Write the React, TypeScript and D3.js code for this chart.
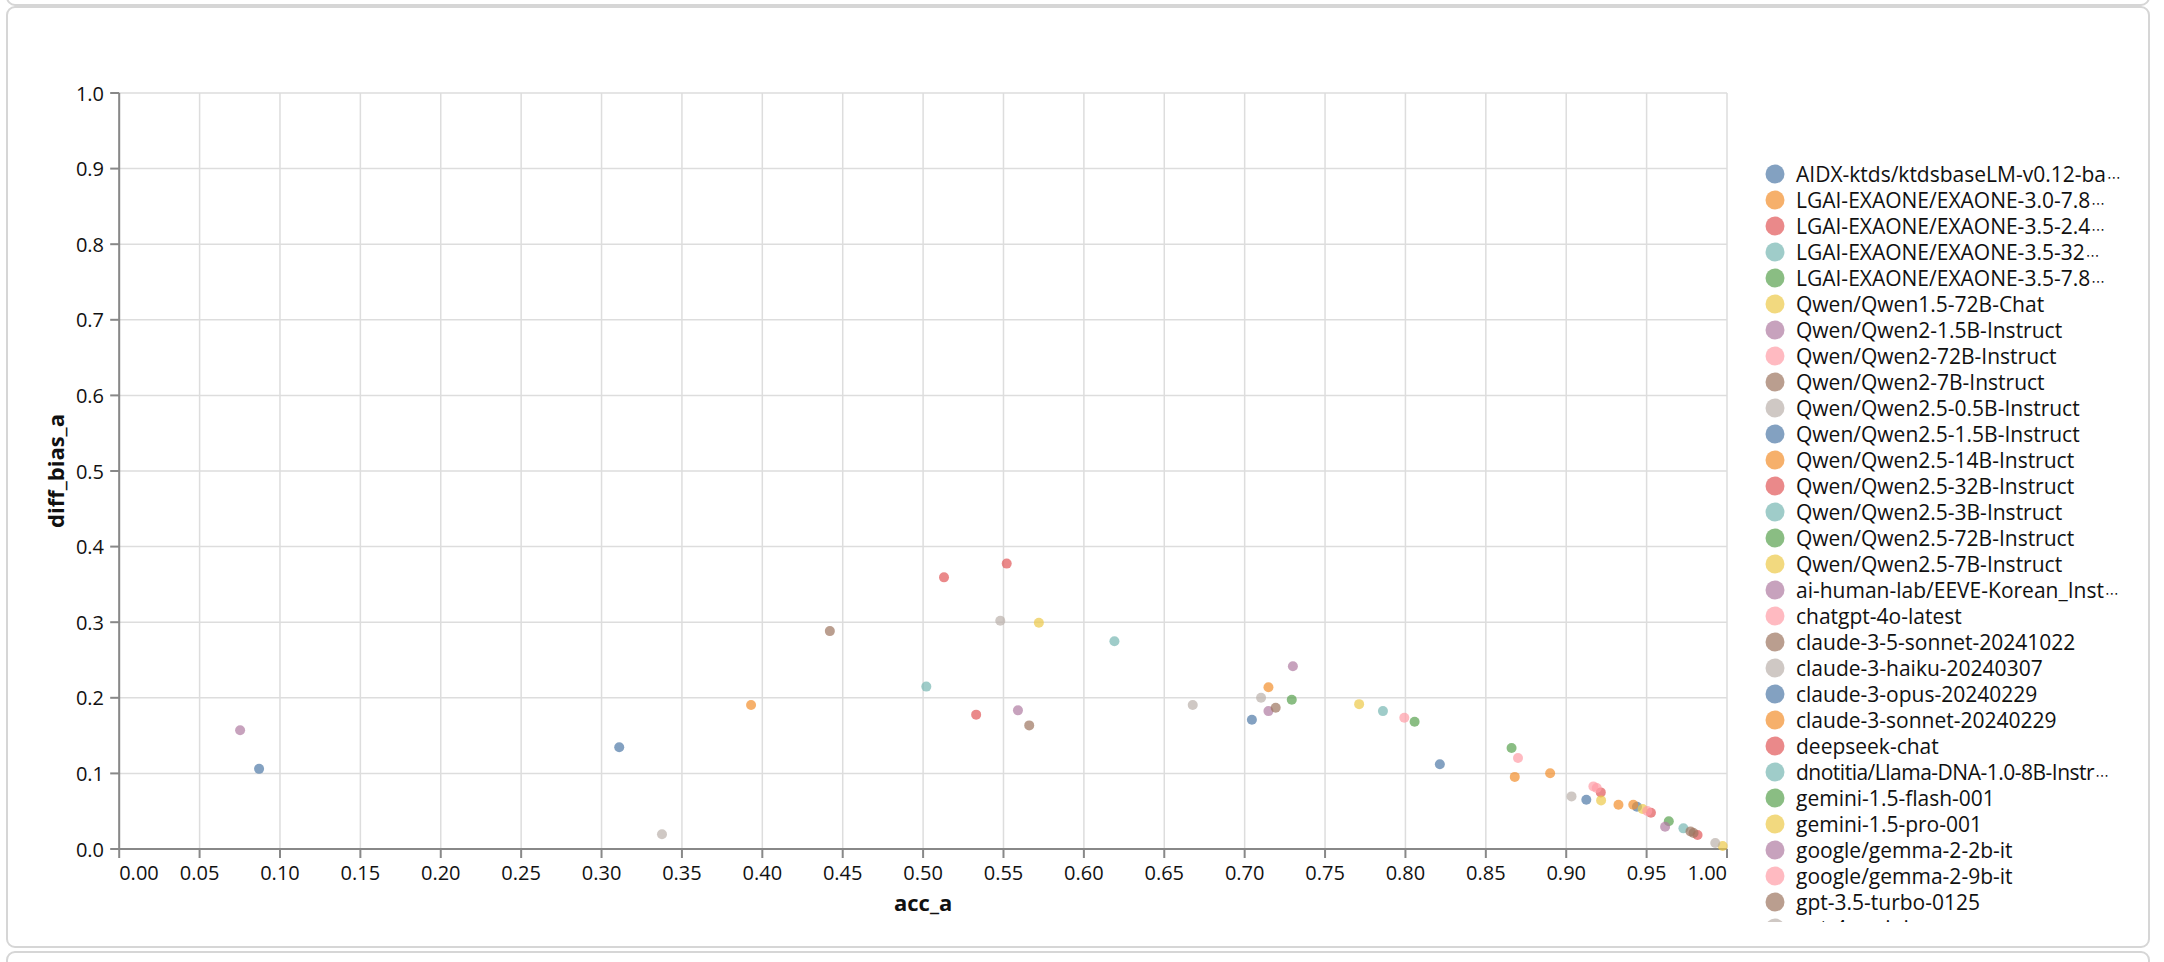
import React from 'react';
import * as d3 from 'd3';

// ---------------- DATA ----------------
const MODELS = [
  'AIDX-ktds/ktdsbaseLM-v0.12-based-on-openchat3.5',
  'LGAI-EXAONE/EXAONE-3.0-7.8B-Instruct',
  'LGAI-EXAONE/EXAONE-3.5-2.4B-Instruct',
  'LGAI-EXAONE/EXAONE-3.5-32B-Instruct',
  'LGAI-EXAONE/EXAONE-3.5-7.8B-Instruct',
  'Qwen/Qwen1.5-72B-Chat',
  'Qwen/Qwen2-1.5B-Instruct',
  'Qwen/Qwen2-72B-Instruct',
  'Qwen/Qwen2-7B-Instruct',
  'Qwen/Qwen2.5-0.5B-Instruct',
  'Qwen/Qwen2.5-1.5B-Instruct',
  'Qwen/Qwen2.5-14B-Instruct',
  'Qwen/Qwen2.5-32B-Instruct',
  'Qwen/Qwen2.5-3B-Instruct',
  'Qwen/Qwen2.5-72B-Instruct',
  'Qwen/Qwen2.5-7B-Instruct',
  'ai-human-lab/EEVE-Korean_Instruct-10.8B-expo',
  'chatgpt-4o-latest',
  'claude-3-5-sonnet-20241022',
  'claude-3-haiku-20240307',
  'claude-3-opus-20240229',
  'claude-3-sonnet-20240229',
  'deepseek-chat',
  'dnotitia/Llama-DNA-1.0-8B-Instruct',
  'gemini-1.5-flash-001',
  'gemini-1.5-pro-001',
  'google/gemma-2-2b-it',
  'google/gemma-2-9b-it',
  'gpt-3.5-turbo-0125',
  'gpt-4o-mini',
  // entries below are hidden by the clipped legend
  'model-31', 'model-32', 'model-33', 'model-34', 'model-35',
  'model-36', 'model-37', 'model-38', 'model-39', 'model-40',
  'model-41', 'model-42', 'model-43', 'model-44', 'model-45',
  'model-46', 'model-47', 'model-48', 'model-49', 'model-50',
  'model-51', 'model-52', 'model-53', 'model-54', 'model-55',
  'model-56', 'model-57', 'model-58', 'model-59', 'model-60',
];

// legend labels as displayed (truncated ones end with an ellipsis)
const TRUNCATED_LABELS: Record<string, string> = {
  'AIDX-ktds/ktdsbaseLM-v0.12-based-on-openchat3.5': 'AIDX-ktds/ktdsbaseLM-v0.12-ba',
  'LGAI-EXAONE/EXAONE-3.0-7.8B-Instruct': 'LGAI-EXAONE/EXAONE-3.0-7.8',
  'LGAI-EXAONE/EXAONE-3.5-2.4B-Instruct': 'LGAI-EXAONE/EXAONE-3.5-2.4',
  'LGAI-EXAONE/EXAONE-3.5-32B-Instruct': 'LGAI-EXAONE/EXAONE-3.5-32',
  'LGAI-EXAONE/EXAONE-3.5-7.8B-Instruct': 'LGAI-EXAONE/EXAONE-3.5-7.8',
  'ai-human-lab/EEVE-Korean_Instruct-10.8B-expo': 'ai-human-lab/EEVE-Korean_Inst',
  'dnotitia/Llama-DNA-1.0-8B-Instruct': 'dnotitia/Llama-DNA-1.0-8B-Instr',
};

// model index (0-based into MODELS) for every point
const POINT_MODEL = [
  0, 10, 20, 30, 40, 50,          // blue
  1, 11, 21, 31, 41, 51,          // orange
  2, 12, 22, 32, 42, 52,          // red
  3, 13, 23, 33,                  // teal
  4, 14, 24, 34,                  // green
  5, 15, 25, 35, 45,              // yellow
  6, 16, 26, 36, 46,              // purple
  7, 17, 27, 37, 47,              // pink
  8, 18, 28, 38, 48,              // brown
  9, 19, 29, 39, 49, 59,          // gray
];
const ACC_A = [
  0.7045, 0.311, 0.9125, 0.087, 0.8214, 0.944,
  0.7148, 0.868, 0.890, 0.393, 0.9325, 0.9417,
  0.552, 0.9215, 0.9527, 0.513, 0.533, 0.9817,
  0.9729, 0.619, 0.786, 0.502,
  0.8057, 0.866, 0.7293, 0.9638,
  0.7712, 0.572, 0.9217, 0.9475, 0.9973,
  0.0752, 0.559, 0.7148, 0.730, 0.9615,
  0.870, 0.9169, 0.7993, 0.919, 0.9504,
  0.442, 0.9773, 0.566, 0.7193, 0.9792,
  0.3376, 0.7102, 0.9033, 0.548, 0.6677, 0.9927,
];
const DIFF_BIAS_A = [
  0.171, 0.1345, 0.0652, 0.106, 0.112, 0.056,
  0.214, 0.0954, 0.1002, 0.1905, 0.0586, 0.0586,
  0.3775, 0.0749, 0.048, 0.3593, 0.1777, 0.0185,
  0.0273, 0.2749, 0.1824, 0.2148,
  0.1684, 0.1336, 0.1974, 0.0366,
  0.1916, 0.2992, 0.0643, 0.0529, 0.004,
  0.157, 0.1834, 0.1824, 0.2418, 0.0295,
  0.1204, 0.0828, 0.1736, 0.0806, 0.0502,
  0.2882, 0.0233, 0.1635, 0.1868, 0.0211,
  0.0194, 0.200, 0.0696, 0.3019, 0.1905, 0.0079,
];

const X_TICKS = [0, 0.05, 0.1, 0.15, 0.2, 0.25, 0.3, 0.35, 0.4, 0.45, 0.5, 0.55, 0.6, 0.65, 0.7, 0.75, 0.8, 0.85, 0.9, 0.95, 1.0];
const Y_TICKS = [0, 0.1, 0.2, 0.3, 0.4, 0.5, 0.6, 0.7, 0.8, 0.9, 1.0];
const X_TITLE = 'acc_a';
const Y_TITLE = 'diff_bias_a';

// ---------------- LAYOUT ----------------
const W = 2164;
const H = 962;
const PLOT = { left: 119.2, right: 1727, top: 93, bottom: 849 };
const FONT = '"Open Sans", "Noto Sans", sans-serif';
const LEG = { symX: 1775, textX: 1796, firstY: 174, step: 26, r: 9.5, clipY: 922, fontSize: 21 };

export default function App() {
  const x = d3.scaleLinear().domain([0, 1]).range([PLOT.left, PLOT.right]);
  const y = d3.scaleLinear().domain([0, 1]).range([PLOT.bottom, PLOT.top]);
  const color = d3.scaleOrdinal<string, string>().domain(MODELS).range(d3.schemeTableau10 as string[]);
  const fx = d3.format('.2f');
  const fy = d3.format('.1f');

  const points = POINT_MODEL.map((m, i) => ({ model: MODELS[m], acc: ACC_A[i], bias: DIFF_BIAS_A[i] }));

  React.useEffect(() => {
    document.body.style.margin = '0';
    document.body.style.overflow = 'hidden';
  }, []);

  const boxStroke = '#d6d6d6';

  return (
    <svg width={W} height={H} style={{ position: 'absolute', left: 0, top: 0, background: '#fff' }} fontFamily={FONT}>
      <defs>
        <clipPath id="legclip">
          <rect x={1740} y={0} width={407} height={LEG.clipY} />
        </clipPath>
      </defs>
      {/* container boxes */}
      <rect x={7} y={-60} width={2142} height={65} rx={8} fill="none" stroke={boxStroke} strokeWidth={2} />
      <rect x={7} y={7} width={2142} height={940} rx={8} fill="none" stroke={boxStroke} strokeWidth={2} />
      <rect x={7} y={952} width={2142} height={80} rx={8} fill="none" stroke={boxStroke} strokeWidth={2} />

      {/* grid */}
      <g stroke="#dddddd" strokeWidth={1.5}>
        {X_TICKS.map((t) => (
          <line key={'gx' + t} x1={x(t)} x2={x(t)} y1={PLOT.top} y2={PLOT.bottom} />
        ))}
        {Y_TICKS.map((t) => (
          <line key={'gy' + t} x1={PLOT.left} x2={PLOT.right} y1={y(t)} y2={y(t)} />
        ))}
      </g>

      {/* axes */}
      <g stroke="#888" strokeWidth={2}>
        <line x1={PLOT.left} x2={PLOT.left} y1={PLOT.top} y2={PLOT.bottom} />
        <line x1={PLOT.left} x2={PLOT.right} y1={PLOT.bottom} y2={PLOT.bottom} />
        {X_TICKS.map((t) => (
          <line key={'tx' + t} x1={x(t)} x2={x(t)} y1={PLOT.bottom} y2={PLOT.bottom + 9} />
        ))}
        {Y_TICKS.map((t) => (
          <line key={'ty' + t} x1={PLOT.left - 9} x2={PLOT.left} y1={y(t)} y2={y(t)} />
        ))}
      </g>
      <g fontSize={20} fill="#111">
        {X_TICKS.map((t, i) => (
          <text
            key={'lx' + t}
            x={x(t)}
            y={880}
            textAnchor={i === 0 ? 'start' : i === X_TICKS.length - 1 ? 'end' : 'middle'}
          >
            {fx(t)}
          </text>
        ))}
        {Y_TICKS.map((t) => (
          <text key={'ly' + t} x={104} y={y(t)} textAnchor="end" dominantBaseline="central">
            {fy(t)}
          </text>
        ))}
      </g>
      <text x={(PLOT.left + PLOT.right) / 2} y={911} textAnchor="middle" fontSize={22} fontWeight="bold" fill="#111">
        {X_TITLE}
      </text>
      <text
        transform={`translate(64,${(PLOT.top + PLOT.bottom) / 2}) rotate(-90)`}
        textAnchor="middle"
        fontSize={22}
        fontWeight="bold"
        fill="#111"
      >
        {Y_TITLE}
      </text>

      {/* points */}
      <g>
        {points.map((p, i) => (
          <circle key={'p' + i} cx={x(p.acc)} cy={y(p.bias)} r={5} fill={color(p.model)} fillOpacity={0.7} />
        ))}
      </g>

      {/* legend */}
      <g clipPath="url(#legclip)">
        {MODELS.map((m, i) => {
          const cy = LEG.firstY + i * LEG.step;
          const short = TRUNCATED_LABELS[m];
          return (
            <g key={'leg' + i}>
              <circle cx={LEG.symX} cy={cy} r={LEG.r} fill={color(m)} fillOpacity={0.7} />
              <text x={LEG.textX} y={cy + 7.5} fontSize={LEG.fontSize} fill="#111" letterSpacing={i === 23 ? -0.5 : 0}>
                {short !== undefined ? short : m}
                {short !== undefined ? (
                  <tspan fontFamily='"DejaVu Sans", sans-serif' fontSize={14} dx={1} letterSpacing={0}>{'\u22EF'}</tspan>
                ) : null}
              </text>
            </g>
          );
        })}
      </g>
    </svg>
  );
}
